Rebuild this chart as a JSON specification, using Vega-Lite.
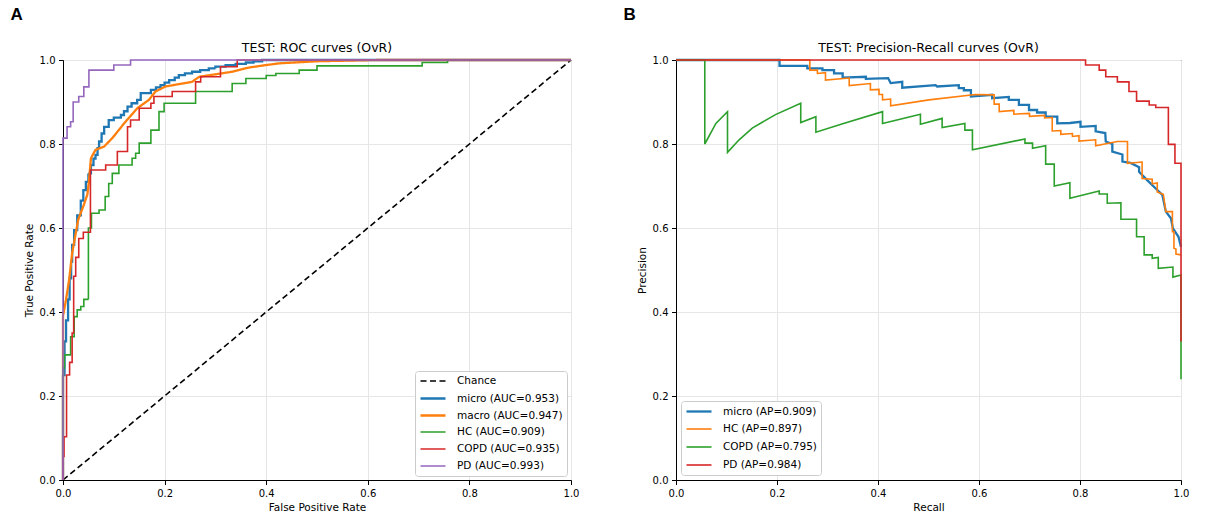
{
  "$schema": "https://vega.github.io/schema/vega-lite/v6.json",
  "background": "#ffffff",
  "padding": {"left": 10, "top": 6, "right": 10, "bottom": 5},
  "config": {
    "font": "DejaVu Sans",
    "view": {"stroke": "#000000", "strokeWidth": 1},
    "axis": {"grid": true, "gridColor": "#e6e6e6", "gridWidth": 1, "domainColor": "#000000", "tickColor": "#000000", "tickSize": 4.5, "labelPadding": 3.5, "labelFontSize": 10, "labelColor": "#000000", "titleFontSize": 10.5, "titleFontWeight": "normal", "titleColor": "#000000", "labelFlush": false, "labelOverlap": false},
    "title": {"fontSize": 12.5, "fontWeight": "normal", "color": "#000000", "offset": 1}
  },
  "datasets": {
    "roc": [
      {"curve": "Chance", "fpr": 0, "tpr": 0, "k": 0},
      {"curve": "Chance", "fpr": 1, "tpr": 1, "k": 1},
      {"curve": "micro (AUC=0.953)", "fpr": 0, "tpr": 0, "k": 0},
      {"curve": "micro (AUC=0.953)", "fpr": 0, "tpr": 0.25, "k": 1},
      {"curve": "micro (AUC=0.953)", "fpr": 0.003, "tpr": 0.33, "k": 2},
      {"curve": "micro (AUC=0.953)", "fpr": 0.006, "tpr": 0.38, "k": 3},
      {"curve": "micro (AUC=0.953)", "fpr": 0.01, "tpr": 0.43, "k": 4},
      {"curve": "micro (AUC=0.953)", "fpr": 0.013, "tpr": 0.48, "k": 5},
      {"curve": "micro (AUC=0.953)", "fpr": 0.016, "tpr": 0.52, "k": 6},
      {"curve": "micro (AUC=0.953)", "fpr": 0.018, "tpr": 0.56, "k": 7},
      {"curve": "micro (AUC=0.953)", "fpr": 0.022, "tpr": 0.595, "k": 8},
      {"curve": "micro (AUC=0.953)", "fpr": 0.028, "tpr": 0.63, "k": 9},
      {"curve": "micro (AUC=0.953)", "fpr": 0.035, "tpr": 0.665, "k": 10},
      {"curve": "micro (AUC=0.953)", "fpr": 0.04, "tpr": 0.69, "k": 11},
      {"curve": "micro (AUC=0.953)", "fpr": 0.045, "tpr": 0.71, "k": 12},
      {"curve": "micro (AUC=0.953)", "fpr": 0.05, "tpr": 0.73, "k": 13},
      {"curve": "micro (AUC=0.953)", "fpr": 0.055, "tpr": 0.75, "k": 14},
      {"curve": "micro (AUC=0.953)", "fpr": 0.06, "tpr": 0.765, "k": 15},
      {"curve": "micro (AUC=0.953)", "fpr": 0.064, "tpr": 0.774, "k": 16},
      {"curve": "micro (AUC=0.953)", "fpr": 0.068, "tpr": 0.79, "k": 17},
      {"curve": "micro (AUC=0.953)", "fpr": 0.071, "tpr": 0.806, "k": 18},
      {"curve": "micro (AUC=0.953)", "fpr": 0.076, "tpr": 0.825, "k": 19},
      {"curve": "micro (AUC=0.953)", "fpr": 0.081, "tpr": 0.841, "k": 20},
      {"curve": "micro (AUC=0.953)", "fpr": 0.09, "tpr": 0.857, "k": 21},
      {"curve": "micro (AUC=0.953)", "fpr": 0.1, "tpr": 0.863, "k": 22},
      {"curve": "micro (AUC=0.953)", "fpr": 0.114, "tpr": 0.869, "k": 23},
      {"curve": "micro (AUC=0.953)", "fpr": 0.12, "tpr": 0.878, "k": 24},
      {"curve": "micro (AUC=0.953)", "fpr": 0.127, "tpr": 0.889, "k": 25},
      {"curve": "micro (AUC=0.953)", "fpr": 0.135, "tpr": 0.897, "k": 26},
      {"curve": "micro (AUC=0.953)", "fpr": 0.146, "tpr": 0.905, "k": 27},
      {"curve": "micro (AUC=0.953)", "fpr": 0.153, "tpr": 0.921, "k": 28},
      {"curve": "micro (AUC=0.953)", "fpr": 0.173, "tpr": 0.929, "k": 29},
      {"curve": "micro (AUC=0.953)", "fpr": 0.183, "tpr": 0.935, "k": 30},
      {"curve": "micro (AUC=0.953)", "fpr": 0.192, "tpr": 0.94, "k": 31},
      {"curve": "micro (AUC=0.953)", "fpr": 0.2, "tpr": 0.946, "k": 32},
      {"curve": "micro (AUC=0.953)", "fpr": 0.209, "tpr": 0.952, "k": 33},
      {"curve": "micro (AUC=0.953)", "fpr": 0.22, "tpr": 0.958, "k": 34},
      {"curve": "micro (AUC=0.953)", "fpr": 0.228, "tpr": 0.964, "k": 35},
      {"curve": "micro (AUC=0.953)", "fpr": 0.24, "tpr": 0.968, "k": 36},
      {"curve": "micro (AUC=0.953)", "fpr": 0.254, "tpr": 0.972, "k": 37},
      {"curve": "micro (AUC=0.953)", "fpr": 0.27, "tpr": 0.976, "k": 38},
      {"curve": "micro (AUC=0.953)", "fpr": 0.287, "tpr": 0.98, "k": 39},
      {"curve": "micro (AUC=0.953)", "fpr": 0.3, "tpr": 0.984, "k": 40},
      {"curve": "micro (AUC=0.953)", "fpr": 0.32, "tpr": 0.988, "k": 41},
      {"curve": "micro (AUC=0.953)", "fpr": 0.34, "tpr": 0.991, "k": 42},
      {"curve": "micro (AUC=0.953)", "fpr": 0.36, "tpr": 0.994, "k": 43},
      {"curve": "micro (AUC=0.953)", "fpr": 0.375, "tpr": 0.997, "k": 44},
      {"curve": "micro (AUC=0.953)", "fpr": 0.392, "tpr": 1.0, "k": 45},
      {"curve": "micro (AUC=0.953)", "fpr": 1, "tpr": 1.0, "k": 46},
      {"curve": "macro (AUC=0.947)", "fpr": 0, "tpr": 0, "k": 0},
      {"curve": "macro (AUC=0.947)", "fpr": 0, "tpr": 0.39, "k": 1},
      {"curve": "macro (AUC=0.947)", "fpr": 0.006, "tpr": 0.43, "k": 2},
      {"curve": "macro (AUC=0.947)", "fpr": 0.012, "tpr": 0.476, "k": 3},
      {"curve": "macro (AUC=0.947)", "fpr": 0.018, "tpr": 0.54, "k": 4},
      {"curve": "macro (AUC=0.947)", "fpr": 0.022, "tpr": 0.567, "k": 5},
      {"curve": "macro (AUC=0.947)", "fpr": 0.03, "tpr": 0.62, "k": 6},
      {"curve": "macro (AUC=0.947)", "fpr": 0.041, "tpr": 0.655, "k": 7},
      {"curve": "macro (AUC=0.947)", "fpr": 0.048, "tpr": 0.68, "k": 8},
      {"curve": "macro (AUC=0.947)", "fpr": 0.051, "tpr": 0.71, "k": 9},
      {"curve": "macro (AUC=0.947)", "fpr": 0.055, "tpr": 0.766, "k": 10},
      {"curve": "macro (AUC=0.947)", "fpr": 0.064, "tpr": 0.786, "k": 11},
      {"curve": "macro (AUC=0.947)", "fpr": 0.081, "tpr": 0.794, "k": 12},
      {"curve": "macro (AUC=0.947)", "fpr": 0.097, "tpr": 0.814, "k": 13},
      {"curve": "macro (AUC=0.947)", "fpr": 0.123, "tpr": 0.853, "k": 14},
      {"curve": "macro (AUC=0.947)", "fpr": 0.146, "tpr": 0.885, "k": 15},
      {"curve": "macro (AUC=0.947)", "fpr": 0.169, "tpr": 0.905, "k": 16},
      {"curve": "macro (AUC=0.947)", "fpr": 0.182, "tpr": 0.925, "k": 17},
      {"curve": "macro (AUC=0.947)", "fpr": 0.202, "tpr": 0.937, "k": 18},
      {"curve": "macro (AUC=0.947)", "fpr": 0.254, "tpr": 0.948, "k": 19},
      {"curve": "macro (AUC=0.947)", "fpr": 0.268, "tpr": 0.96, "k": 20},
      {"curve": "macro (AUC=0.947)", "fpr": 0.333, "tpr": 0.972, "k": 21},
      {"curve": "macro (AUC=0.947)", "fpr": 0.366, "tpr": 0.982, "k": 22},
      {"curve": "macro (AUC=0.947)", "fpr": 0.4, "tpr": 0.988, "k": 23},
      {"curve": "macro (AUC=0.947)", "fpr": 0.425, "tpr": 0.992, "k": 24},
      {"curve": "macro (AUC=0.947)", "fpr": 0.5, "tpr": 0.997, "k": 25},
      {"curve": "macro (AUC=0.947)", "fpr": 0.62, "tpr": 1.0, "k": 26},
      {"curve": "macro (AUC=0.947)", "fpr": 1, "tpr": 1.0, "k": 27},
      {"curve": "HC (AUC=0.909)", "fpr": 0, "tpr": 0, "k": 0},
      {"curve": "HC (AUC=0.909)", "fpr": 0, "tpr": 0.267, "k": 1},
      {"curve": "HC (AUC=0.909)", "fpr": 0.003, "tpr": 0.298, "k": 2},
      {"curve": "HC (AUC=0.909)", "fpr": 0.015, "tpr": 0.341, "k": 3},
      {"curve": "HC (AUC=0.909)", "fpr": 0.022, "tpr": 0.389, "k": 4},
      {"curve": "HC (AUC=0.909)", "fpr": 0.028, "tpr": 0.405, "k": 5},
      {"curve": "HC (AUC=0.909)", "fpr": 0.035, "tpr": 0.413, "k": 6},
      {"curve": "HC (AUC=0.909)", "fpr": 0.041, "tpr": 0.43, "k": 7},
      {"curve": "HC (AUC=0.909)", "fpr": 0.05, "tpr": 0.6, "k": 8},
      {"curve": "HC (AUC=0.909)", "fpr": 0.056, "tpr": 0.635, "k": 9},
      {"curve": "HC (AUC=0.909)", "fpr": 0.071, "tpr": 0.643, "k": 10},
      {"curve": "HC (AUC=0.909)", "fpr": 0.083, "tpr": 0.675, "k": 11},
      {"curve": "HC (AUC=0.909)", "fpr": 0.09, "tpr": 0.706, "k": 12},
      {"curve": "HC (AUC=0.909)", "fpr": 0.097, "tpr": 0.73, "k": 13},
      {"curve": "HC (AUC=0.909)", "fpr": 0.11, "tpr": 0.75, "k": 14},
      {"curve": "HC (AUC=0.909)", "fpr": 0.136, "tpr": 0.766, "k": 15},
      {"curve": "HC (AUC=0.909)", "fpr": 0.143, "tpr": 0.778, "k": 16},
      {"curve": "HC (AUC=0.909)", "fpr": 0.15, "tpr": 0.802, "k": 17},
      {"curve": "HC (AUC=0.909)", "fpr": 0.173, "tpr": 0.833, "k": 18},
      {"curve": "HC (AUC=0.909)", "fpr": 0.189, "tpr": 0.877, "k": 19},
      {"curve": "HC (AUC=0.909)", "fpr": 0.199, "tpr": 0.897, "k": 20},
      {"curve": "HC (AUC=0.909)", "fpr": 0.261, "tpr": 0.925, "k": 21},
      {"curve": "HC (AUC=0.909)", "fpr": 0.333, "tpr": 0.944, "k": 22},
      {"curve": "HC (AUC=0.909)", "fpr": 0.36, "tpr": 0.956, "k": 23},
      {"curve": "HC (AUC=0.909)", "fpr": 0.4, "tpr": 0.963, "k": 24},
      {"curve": "HC (AUC=0.909)", "fpr": 0.419, "tpr": 0.968, "k": 25},
      {"curve": "HC (AUC=0.909)", "fpr": 0.465, "tpr": 0.976, "k": 26},
      {"curve": "HC (AUC=0.909)", "fpr": 0.5, "tpr": 0.986, "k": 27},
      {"curve": "HC (AUC=0.909)", "fpr": 0.707, "tpr": 0.994, "k": 28},
      {"curve": "HC (AUC=0.909)", "fpr": 0.757, "tpr": 1.0, "k": 29},
      {"curve": "HC (AUC=0.909)", "fpr": 1, "tpr": 1.0, "k": 30},
      {"curve": "COPD (AUC=0.935)", "fpr": 0, "tpr": 0, "k": 0},
      {"curve": "COPD (AUC=0.935)", "fpr": 0, "tpr": 0.056, "k": 1},
      {"curve": "COPD (AUC=0.935)", "fpr": 0.002, "tpr": 0.103, "k": 2},
      {"curve": "COPD (AUC=0.935)", "fpr": 0.007, "tpr": 0.25, "k": 3},
      {"curve": "COPD (AUC=0.935)", "fpr": 0.013, "tpr": 0.28, "k": 4},
      {"curve": "COPD (AUC=0.935)", "fpr": 0.018, "tpr": 0.35, "k": 5},
      {"curve": "COPD (AUC=0.935)", "fpr": 0.021, "tpr": 0.485, "k": 6},
      {"curve": "COPD (AUC=0.935)", "fpr": 0.025, "tpr": 0.53, "k": 7},
      {"curve": "COPD (AUC=0.935)", "fpr": 0.031, "tpr": 0.575, "k": 8},
      {"curve": "COPD (AUC=0.935)", "fpr": 0.04, "tpr": 0.59, "k": 9},
      {"curve": "COPD (AUC=0.935)", "fpr": 0.054, "tpr": 0.738, "k": 10},
      {"curve": "COPD (AUC=0.935)", "fpr": 0.084, "tpr": 0.75, "k": 11},
      {"curve": "COPD (AUC=0.935)", "fpr": 0.107, "tpr": 0.782, "k": 12},
      {"curve": "COPD (AUC=0.935)", "fpr": 0.127, "tpr": 0.841, "k": 13},
      {"curve": "COPD (AUC=0.935)", "fpr": 0.133, "tpr": 0.857, "k": 14},
      {"curve": "COPD (AUC=0.935)", "fpr": 0.15, "tpr": 0.885, "k": 15},
      {"curve": "COPD (AUC=0.935)", "fpr": 0.173, "tpr": 0.897, "k": 16},
      {"curve": "COPD (AUC=0.935)", "fpr": 0.179, "tpr": 0.913, "k": 17},
      {"curve": "COPD (AUC=0.935)", "fpr": 0.215, "tpr": 0.925, "k": 18},
      {"curve": "COPD (AUC=0.935)", "fpr": 0.261, "tpr": 0.948, "k": 19},
      {"curve": "COPD (AUC=0.935)", "fpr": 0.271, "tpr": 0.96, "k": 20},
      {"curve": "COPD (AUC=0.935)", "fpr": 0.31, "tpr": 0.984, "k": 21},
      {"curve": "COPD (AUC=0.935)", "fpr": 0.343, "tpr": 1.0, "k": 22},
      {"curve": "COPD (AUC=0.935)", "fpr": 1, "tpr": 1.0, "k": 23},
      {"curve": "PD (AUC=0.993)", "fpr": 0, "tpr": 0, "k": 0},
      {"curve": "PD (AUC=0.993)", "fpr": 0, "tpr": 0.814, "k": 1},
      {"curve": "PD (AUC=0.993)", "fpr": 0.008, "tpr": 0.841, "k": 2},
      {"curve": "PD (AUC=0.993)", "fpr": 0.015, "tpr": 0.853, "k": 3},
      {"curve": "PD (AUC=0.993)", "fpr": 0.02, "tpr": 0.9, "k": 4},
      {"curve": "PD (AUC=0.993)", "fpr": 0.031, "tpr": 0.913, "k": 5},
      {"curve": "PD (AUC=0.993)", "fpr": 0.041, "tpr": 0.936, "k": 6},
      {"curve": "PD (AUC=0.993)", "fpr": 0.051, "tpr": 0.976, "k": 7},
      {"curve": "PD (AUC=0.993)", "fpr": 0.1, "tpr": 0.988, "k": 8},
      {"curve": "PD (AUC=0.993)", "fpr": 0.133, "tpr": 1.0, "k": 9},
      {"curve": "PD (AUC=0.993)", "fpr": 1, "tpr": 1.0, "k": 10}
    ],
    "pr": [
      {"curve": "micro (AP=0.909)", "recall": 0, "precision": 1, "k": 0},
      {"curve": "micro (AP=0.909)", "recall": 0.205, "precision": 1, "k": 1},
      {"curve": "micro (AP=0.909)", "recall": 0.205, "precision": 0.986, "k": 2},
      {"curve": "micro (AP=0.909)", "recall": 0.26, "precision": 0.986, "k": 3},
      {"curve": "micro (AP=0.909)", "recall": 0.26, "precision": 0.98, "k": 4},
      {"curve": "micro (AP=0.909)", "recall": 0.29, "precision": 0.98, "k": 5},
      {"curve": "micro (AP=0.909)", "recall": 0.29, "precision": 0.976, "k": 6},
      {"curve": "micro (AP=0.909)", "recall": 0.313, "precision": 0.976, "k": 7},
      {"curve": "micro (AP=0.909)", "recall": 0.313, "precision": 0.968, "k": 8},
      {"curve": "micro (AP=0.909)", "recall": 0.33, "precision": 0.968, "k": 9},
      {"curve": "micro (AP=0.909)", "recall": 0.33, "precision": 0.958, "k": 10},
      {"curve": "micro (AP=0.909)", "recall": 0.376, "precision": 0.96, "k": 11},
      {"curve": "micro (AP=0.909)", "recall": 0.376, "precision": 0.955, "k": 12},
      {"curve": "micro (AP=0.909)", "recall": 0.42, "precision": 0.957, "k": 13},
      {"curve": "micro (AP=0.909)", "recall": 0.425, "precision": 0.945, "k": 14},
      {"curve": "micro (AP=0.909)", "recall": 0.448, "precision": 0.948, "k": 15},
      {"curve": "micro (AP=0.909)", "recall": 0.448, "precision": 0.934, "k": 16},
      {"curve": "micro (AP=0.909)", "recall": 0.514, "precision": 0.94, "k": 17},
      {"curve": "micro (AP=0.909)", "recall": 0.517, "precision": 0.937, "k": 18},
      {"curve": "micro (AP=0.909)", "recall": 0.56, "precision": 0.94, "k": 19},
      {"curve": "micro (AP=0.909)", "recall": 0.56, "precision": 0.933, "k": 20},
      {"curve": "micro (AP=0.909)", "recall": 0.57, "precision": 0.933, "k": 21},
      {"curve": "micro (AP=0.909)", "recall": 0.57, "precision": 0.928, "k": 22},
      {"curve": "micro (AP=0.909)", "recall": 0.584, "precision": 0.928, "k": 23},
      {"curve": "micro (AP=0.909)", "recall": 0.584, "precision": 0.913, "k": 24},
      {"curve": "micro (AP=0.909)", "recall": 0.626, "precision": 0.917, "k": 25},
      {"curve": "micro (AP=0.909)", "recall": 0.626, "precision": 0.909, "k": 26},
      {"curve": "micro (AP=0.909)", "recall": 0.659, "precision": 0.912, "k": 27},
      {"curve": "micro (AP=0.909)", "recall": 0.659, "precision": 0.905, "k": 28},
      {"curve": "micro (AP=0.909)", "recall": 0.679, "precision": 0.905, "k": 29},
      {"curve": "micro (AP=0.909)", "recall": 0.679, "precision": 0.893, "k": 30},
      {"curve": "micro (AP=0.909)", "recall": 0.699, "precision": 0.893, "k": 31},
      {"curve": "micro (AP=0.909)", "recall": 0.699, "precision": 0.881, "k": 32},
      {"curve": "micro (AP=0.909)", "recall": 0.715, "precision": 0.881, "k": 33},
      {"curve": "micro (AP=0.909)", "recall": 0.715, "precision": 0.875, "k": 34},
      {"curve": "micro (AP=0.909)", "recall": 0.732, "precision": 0.875, "k": 35},
      {"curve": "micro (AP=0.909)", "recall": 0.732, "precision": 0.865, "k": 36},
      {"curve": "micro (AP=0.909)", "recall": 0.755, "precision": 0.865, "k": 37},
      {"curve": "micro (AP=0.909)", "recall": 0.755, "precision": 0.849, "k": 38},
      {"curve": "micro (AP=0.909)", "recall": 0.78, "precision": 0.85, "k": 39},
      {"curve": "micro (AP=0.909)", "recall": 0.801, "precision": 0.853, "k": 40},
      {"curve": "micro (AP=0.909)", "recall": 0.801, "precision": 0.841, "k": 41},
      {"curve": "micro (AP=0.909)", "recall": 0.831, "precision": 0.843, "k": 42},
      {"curve": "micro (AP=0.909)", "recall": 0.831, "precision": 0.83, "k": 43},
      {"curve": "micro (AP=0.909)", "recall": 0.85, "precision": 0.826, "k": 44},
      {"curve": "micro (AP=0.909)", "recall": 0.851, "precision": 0.806, "k": 45},
      {"curve": "micro (AP=0.909)", "recall": 0.864, "precision": 0.8, "k": 46},
      {"curve": "micro (AP=0.909)", "recall": 0.864, "precision": 0.782, "k": 47},
      {"curve": "micro (AP=0.909)", "recall": 0.884, "precision": 0.775, "k": 48},
      {"curve": "micro (AP=0.909)", "recall": 0.884, "precision": 0.758, "k": 49},
      {"curve": "micro (AP=0.909)", "recall": 0.9, "precision": 0.755, "k": 50},
      {"curve": "micro (AP=0.909)", "recall": 0.917, "precision": 0.745, "k": 51},
      {"curve": "micro (AP=0.909)", "recall": 0.917, "precision": 0.734, "k": 52},
      {"curve": "micro (AP=0.909)", "recall": 0.933, "precision": 0.714, "k": 53},
      {"curve": "micro (AP=0.909)", "recall": 0.95, "precision": 0.694, "k": 54},
      {"curve": "micro (AP=0.909)", "recall": 0.963, "precision": 0.679, "k": 55},
      {"curve": "micro (AP=0.909)", "recall": 0.97, "precision": 0.639, "k": 56},
      {"curve": "micro (AP=0.909)", "recall": 0.98, "precision": 0.623, "k": 57},
      {"curve": "micro (AP=0.909)", "recall": 0.984, "precision": 0.599, "k": 58},
      {"curve": "micro (AP=0.909)", "recall": 0.995, "precision": 0.579, "k": 59},
      {"curve": "micro (AP=0.909)", "recall": 1.0, "precision": 0.555, "k": 60},
      {"curve": "HC (AP=0.897)", "recall": 0, "precision": 1, "k": 0},
      {"curve": "HC (AP=0.897)", "recall": 0.265, "precision": 1, "k": 1},
      {"curve": "HC (AP=0.897)", "recall": 0.265, "precision": 0.976, "k": 2},
      {"curve": "HC (AP=0.897)", "recall": 0.28, "precision": 0.976, "k": 3},
      {"curve": "HC (AP=0.897)", "recall": 0.28, "precision": 0.968, "k": 4},
      {"curve": "HC (AP=0.897)", "recall": 0.296, "precision": 0.97, "k": 5},
      {"curve": "HC (AP=0.897)", "recall": 0.296, "precision": 0.952, "k": 6},
      {"curve": "HC (AP=0.897)", "recall": 0.343, "precision": 0.957, "k": 7},
      {"curve": "HC (AP=0.897)", "recall": 0.343, "precision": 0.939, "k": 8},
      {"curve": "HC (AP=0.897)", "recall": 0.385, "precision": 0.944, "k": 9},
      {"curve": "HC (AP=0.897)", "recall": 0.385, "precision": 0.929, "k": 10},
      {"curve": "HC (AP=0.897)", "recall": 0.402, "precision": 0.93, "k": 11},
      {"curve": "HC (AP=0.897)", "recall": 0.402, "precision": 0.918, "k": 12},
      {"curve": "HC (AP=0.897)", "recall": 0.409, "precision": 0.918, "k": 13},
      {"curve": "HC (AP=0.897)", "recall": 0.409, "precision": 0.905, "k": 14},
      {"curve": "HC (AP=0.897)", "recall": 0.425, "precision": 0.907, "k": 15},
      {"curve": "HC (AP=0.897)", "recall": 0.425, "precision": 0.891, "k": 16},
      {"curve": "HC (AP=0.897)", "recall": 0.501, "precision": 0.905, "k": 17},
      {"curve": "HC (AP=0.897)", "recall": 0.593, "precision": 0.918, "k": 18},
      {"curve": "HC (AP=0.897)", "recall": 0.63, "precision": 0.917, "k": 19},
      {"curve": "HC (AP=0.897)", "recall": 0.63, "precision": 0.895, "k": 20},
      {"curve": "HC (AP=0.897)", "recall": 0.64, "precision": 0.895, "k": 21},
      {"curve": "HC (AP=0.897)", "recall": 0.64, "precision": 0.877, "k": 22},
      {"curve": "HC (AP=0.897)", "recall": 0.669, "precision": 0.88, "k": 23},
      {"curve": "HC (AP=0.897)", "recall": 0.669, "precision": 0.871, "k": 24},
      {"curve": "HC (AP=0.897)", "recall": 0.7, "precision": 0.873, "k": 25},
      {"curve": "HC (AP=0.897)", "recall": 0.7, "precision": 0.866, "k": 26},
      {"curve": "HC (AP=0.897)", "recall": 0.73, "precision": 0.868, "k": 27},
      {"curve": "HC (AP=0.897)", "recall": 0.73, "precision": 0.862, "k": 28},
      {"curve": "HC (AP=0.897)", "recall": 0.745, "precision": 0.863, "k": 29},
      {"curve": "HC (AP=0.897)", "recall": 0.745, "precision": 0.831, "k": 30},
      {"curve": "HC (AP=0.897)", "recall": 0.762, "precision": 0.832, "k": 31},
      {"curve": "HC (AP=0.897)", "recall": 0.762, "precision": 0.823, "k": 32},
      {"curve": "HC (AP=0.897)", "recall": 0.785, "precision": 0.825, "k": 33},
      {"curve": "HC (AP=0.897)", "recall": 0.785, "precision": 0.818, "k": 34},
      {"curve": "HC (AP=0.897)", "recall": 0.798, "precision": 0.82, "k": 35},
      {"curve": "HC (AP=0.897)", "recall": 0.798, "precision": 0.807, "k": 36},
      {"curve": "HC (AP=0.897)", "recall": 0.831, "precision": 0.81, "k": 37},
      {"curve": "HC (AP=0.897)", "recall": 0.831, "precision": 0.796, "k": 38},
      {"curve": "HC (AP=0.897)", "recall": 0.874, "precision": 0.806, "k": 39},
      {"curve": "HC (AP=0.897)", "recall": 0.894, "precision": 0.806, "k": 40},
      {"curve": "HC (AP=0.897)", "recall": 0.894, "precision": 0.754, "k": 41},
      {"curve": "HC (AP=0.897)", "recall": 0.923, "precision": 0.757, "k": 42},
      {"curve": "HC (AP=0.897)", "recall": 0.923, "precision": 0.718, "k": 43},
      {"curve": "HC (AP=0.897)", "recall": 0.943, "precision": 0.716, "k": 44},
      {"curve": "HC (AP=0.897)", "recall": 0.943, "precision": 0.705, "k": 45},
      {"curve": "HC (AP=0.897)", "recall": 0.953, "precision": 0.707, "k": 46},
      {"curve": "HC (AP=0.897)", "recall": 0.953, "precision": 0.686, "k": 47},
      {"curve": "HC (AP=0.897)", "recall": 0.965, "precision": 0.68, "k": 48},
      {"curve": "HC (AP=0.897)", "recall": 0.97, "precision": 0.639, "k": 49},
      {"curve": "HC (AP=0.897)", "recall": 0.983, "precision": 0.639, "k": 50},
      {"curve": "HC (AP=0.897)", "recall": 0.983, "precision": 0.591, "k": 51},
      {"curve": "HC (AP=0.897)", "recall": 0.986, "precision": 0.591, "k": 52},
      {"curve": "HC (AP=0.897)", "recall": 0.986, "precision": 0.552, "k": 53},
      {"curve": "HC (AP=0.897)", "recall": 0.99, "precision": 0.55, "k": 54},
      {"curve": "HC (AP=0.897)", "recall": 0.99, "precision": 0.538, "k": 55},
      {"curve": "HC (AP=0.897)", "recall": 1.0, "precision": 0.536, "k": 56},
      {"curve": "COPD (AP=0.795)", "recall": 0, "precision": 1, "k": 0},
      {"curve": "COPD (AP=0.795)", "recall": 0.057, "precision": 1, "k": 1},
      {"curve": "COPD (AP=0.795)", "recall": 0.057, "precision": 0.8, "k": 2},
      {"curve": "COPD (AP=0.795)", "recall": 0.079, "precision": 0.849, "k": 3},
      {"curve": "COPD (AP=0.795)", "recall": 0.102, "precision": 0.877, "k": 4},
      {"curve": "COPD (AP=0.795)", "recall": 0.102, "precision": 0.78, "k": 5},
      {"curve": "COPD (AP=0.795)", "recall": 0.125, "precision": 0.81, "k": 6},
      {"curve": "COPD (AP=0.795)", "recall": 0.151, "precision": 0.838, "k": 7},
      {"curve": "COPD (AP=0.795)", "recall": 0.197, "precision": 0.87, "k": 8},
      {"curve": "COPD (AP=0.795)", "recall": 0.247, "precision": 0.897, "k": 9},
      {"curve": "COPD (AP=0.795)", "recall": 0.247, "precision": 0.851, "k": 10},
      {"curve": "COPD (AP=0.795)", "recall": 0.277, "precision": 0.865, "k": 11},
      {"curve": "COPD (AP=0.795)", "recall": 0.277, "precision": 0.828, "k": 12},
      {"curve": "COPD (AP=0.795)", "recall": 0.33, "precision": 0.848, "k": 13},
      {"curve": "COPD (AP=0.795)", "recall": 0.409, "precision": 0.877, "k": 14},
      {"curve": "COPD (AP=0.795)", "recall": 0.409, "precision": 0.849, "k": 15},
      {"curve": "COPD (AP=0.795)", "recall": 0.484, "precision": 0.871, "k": 16},
      {"curve": "COPD (AP=0.795)", "recall": 0.484, "precision": 0.847, "k": 17},
      {"curve": "COPD (AP=0.795)", "recall": 0.527, "precision": 0.861, "k": 18},
      {"curve": "COPD (AP=0.795)", "recall": 0.527, "precision": 0.839, "k": 19},
      {"curve": "COPD (AP=0.795)", "recall": 0.572, "precision": 0.849, "k": 20},
      {"curve": "COPD (AP=0.795)", "recall": 0.572, "precision": 0.833, "k": 21},
      {"curve": "COPD (AP=0.795)", "recall": 0.587, "precision": 0.833, "k": 22},
      {"curve": "COPD (AP=0.795)", "recall": 0.587, "precision": 0.786, "k": 23},
      {"curve": "COPD (AP=0.795)", "recall": 0.691, "precision": 0.812, "k": 24},
      {"curve": "COPD (AP=0.795)", "recall": 0.691, "precision": 0.802, "k": 25},
      {"curve": "COPD (AP=0.795)", "recall": 0.706, "precision": 0.802, "k": 26},
      {"curve": "COPD (AP=0.795)", "recall": 0.706, "precision": 0.79, "k": 27},
      {"curve": "COPD (AP=0.795)", "recall": 0.732, "precision": 0.796, "k": 28},
      {"curve": "COPD (AP=0.795)", "recall": 0.732, "precision": 0.752, "k": 29},
      {"curve": "COPD (AP=0.795)", "recall": 0.749, "precision": 0.752, "k": 30},
      {"curve": "COPD (AP=0.795)", "recall": 0.749, "precision": 0.7, "k": 31},
      {"curve": "COPD (AP=0.795)", "recall": 0.78, "precision": 0.708, "k": 32},
      {"curve": "COPD (AP=0.795)", "recall": 0.78, "precision": 0.671, "k": 33},
      {"curve": "COPD (AP=0.795)", "recall": 0.838, "precision": 0.688, "k": 34},
      {"curve": "COPD (AP=0.795)", "recall": 0.838, "precision": 0.681, "k": 35},
      {"curve": "COPD (AP=0.795)", "recall": 0.854, "precision": 0.681, "k": 36},
      {"curve": "COPD (AP=0.795)", "recall": 0.854, "precision": 0.659, "k": 37},
      {"curve": "COPD (AP=0.795)", "recall": 0.881, "precision": 0.66, "k": 38},
      {"curve": "COPD (AP=0.795)", "recall": 0.881, "precision": 0.621, "k": 39},
      {"curve": "COPD (AP=0.795)", "recall": 0.912, "precision": 0.621, "k": 40},
      {"curve": "COPD (AP=0.795)", "recall": 0.912, "precision": 0.579, "k": 41},
      {"curve": "COPD (AP=0.795)", "recall": 0.927, "precision": 0.579, "k": 42},
      {"curve": "COPD (AP=0.795)", "recall": 0.927, "precision": 0.536, "k": 43},
      {"curve": "COPD (AP=0.795)", "recall": 0.943, "precision": 0.536, "k": 44},
      {"curve": "COPD (AP=0.795)", "recall": 0.943, "precision": 0.528, "k": 45},
      {"curve": "COPD (AP=0.795)", "recall": 0.955, "precision": 0.53, "k": 46},
      {"curve": "COPD (AP=0.795)", "recall": 0.955, "precision": 0.504, "k": 47},
      {"curve": "COPD (AP=0.795)", "recall": 0.984, "precision": 0.507, "k": 48},
      {"curve": "COPD (AP=0.795)", "recall": 0.984, "precision": 0.483, "k": 49},
      {"curve": "COPD (AP=0.795)", "recall": 1.0, "precision": 0.488, "k": 50},
      {"curve": "COPD (AP=0.795)", "recall": 1.0, "precision": 0.24, "k": 51},
      {"curve": "PD (AP=0.984)", "recall": 0, "precision": 1, "k": 0},
      {"curve": "PD (AP=0.984)", "recall": 0.811, "precision": 1, "k": 1},
      {"curve": "PD (AP=0.984)", "recall": 0.811, "precision": 0.988, "k": 2},
      {"curve": "PD (AP=0.984)", "recall": 0.838, "precision": 0.988, "k": 3},
      {"curve": "PD (AP=0.984)", "recall": 0.838, "precision": 0.976, "k": 4},
      {"curve": "PD (AP=0.984)", "recall": 0.851, "precision": 0.976, "k": 5},
      {"curve": "PD (AP=0.984)", "recall": 0.851, "precision": 0.96, "k": 6},
      {"curve": "PD (AP=0.984)", "recall": 0.874, "precision": 0.96, "k": 7},
      {"curve": "PD (AP=0.984)", "recall": 0.874, "precision": 0.948, "k": 8},
      {"curve": "PD (AP=0.984)", "recall": 0.897, "precision": 0.948, "k": 9},
      {"curve": "PD (AP=0.984)", "recall": 0.897, "precision": 0.925, "k": 10},
      {"curve": "PD (AP=0.984)", "recall": 0.912, "precision": 0.925, "k": 11},
      {"curve": "PD (AP=0.984)", "recall": 0.912, "precision": 0.902, "k": 12},
      {"curve": "PD (AP=0.984)", "recall": 0.937, "precision": 0.902, "k": 13},
      {"curve": "PD (AP=0.984)", "recall": 0.937, "precision": 0.893, "k": 14},
      {"curve": "PD (AP=0.984)", "recall": 0.95, "precision": 0.893, "k": 15},
      {"curve": "PD (AP=0.984)", "recall": 0.95, "precision": 0.887, "k": 16},
      {"curve": "PD (AP=0.984)", "recall": 0.975, "precision": 0.887, "k": 17},
      {"curve": "PD (AP=0.984)", "recall": 0.975, "precision": 0.799, "k": 18},
      {"curve": "PD (AP=0.984)", "recall": 0.988, "precision": 0.799, "k": 19},
      {"curve": "PD (AP=0.984)", "recall": 0.988, "precision": 0.754, "k": 20},
      {"curve": "PD (AP=0.984)", "recall": 1.0, "precision": 0.754, "k": 21},
      {"curve": "PD (AP=0.984)", "recall": 1.0, "precision": 0.33, "k": 22}
    ]
  },
  "resolve": {"scale": {"color": "independent", "strokeDash": "independent", "strokeWidth": "independent", "x": "independent", "y": "independent"}, "legend": {"color": "independent", "strokeDash": "independent", "strokeWidth": "independent"}},
  "spacing": 43,
  "hconcat": [
    {
      "title": {"text": "A", "anchor": "start", "font": "Liberation Sans", "fontSize": 17, "fontWeight": "bold", "dx": -13, "offset": 17},
      "resolve": {"scale": {"color": "independent", "strokeDash": "independent", "strokeWidth": "independent", "x": "independent", "y": "independent"}, "legend": {"color": "independent", "strokeDash": "independent", "strokeWidth": "independent"}},
      "hconcat": [
        {
          "title": {"text": "TEST: ROC curves (OvR)"},
          "width": 508,
          "height": 420,
          "data": {"name": "roc"},
          "encoding": {
            "x": {"field": "fpr", "type": "quantitative", "scale": {"domain": [0, 1], "nice": false, "zero": false}, "axis": {"title": "False Positive Rate", "values": [0, 0.2, 0.4, 0.6, 0.8, 1], "format": ".1f", "titlePadding": 4}},
            "y": {"field": "tpr", "type": "quantitative", "scale": {"domain": [0, 1], "nice": false, "zero": false}, "axis": {"title": "True Positive Rate", "values": [0, 0.2, 0.4, 0.6, 0.8, 1], "format": ".1f", "titlePadding": 5}},
            "order": {"field": "k", "type": "quantitative"},
            "color": {"field": "curve", "type": "nominal", "scale": {"domain": ["Chance", "micro (AUC=0.953)", "macro (AUC=0.947)", "HC (AUC=0.909)", "COPD (AUC=0.935)", "PD (AUC=0.993)"], "range": ["#000000", "#1f77b4", "#ff7f0e", "#2ca02c", "#d62728", "#9467bd"]}, "legend": {"title": null, "orient": "bottom-right", "offset": 4, "fillColor": "#ffffff", "strokeColor": "#cccccc", "cornerRadius": 3, "padding": 4, "rowPadding": 5, "labelFontSize": 10.5, "labelColor": "#000000", "symbolType": "M-1,0H4", "symbolSize": 100, "labelOffset": 25}},
            "strokeDash": {"field": "curve", "type": "nominal", "scale": {"domain": ["Chance", "micro (AUC=0.953)", "macro (AUC=0.947)", "HC (AUC=0.909)", "COPD (AUC=0.935)", "PD (AUC=0.993)"], "range": [[6, 3.5], [1, 0], [1, 0], [1, 0], [1, 0], [1, 0]]}, "legend": {"title": null, "orient": "bottom-right", "offset": 4, "fillColor": "#ffffff", "strokeColor": "#cccccc", "cornerRadius": 3, "padding": 4, "rowPadding": 5, "labelFontSize": 10.5, "labelColor": "#000000", "symbolType": "M-1,0H4", "symbolSize": 100, "labelOffset": 25}},
            "strokeWidth": {"field": "curve", "type": "nominal", "scale": {"type": "ordinal", "domain": ["Chance", "micro (AUC=0.953)", "macro (AUC=0.947)", "HC (AUC=0.909)", "COPD (AUC=0.935)", "PD (AUC=0.993)"], "range": [1.6, 2.3, 2.3, 1.6, 1.6, 1.6]}, "legend": {"title": null, "orient": "bottom-right", "offset": 4, "fillColor": "#ffffff", "strokeColor": "#cccccc", "cornerRadius": 3, "padding": 4, "rowPadding": 5, "labelFontSize": 10.5, "labelColor": "#000000", "symbolType": "M-1,0H4", "symbolSize": 100, "labelOffset": 25}}
          },
          "layer": [
            {"transform": [{"filter": {"field": "curve", "oneOf": ["Chance"]}}], "mark": {"type": "line", "interpolate": "linear"}},
            {"transform": [{"filter": {"field": "curve", "oneOf": ["micro (AUC=0.953)"]}}], "mark": {"type": "line", "interpolate": "step-after"}},
            {"transform": [{"filter": {"field": "curve", "oneOf": ["macro (AUC=0.947)"]}}], "mark": {"type": "line", "interpolate": "linear"}},
            {"transform": [{"filter": {"field": "curve", "oneOf": ["HC (AUC=0.909)", "COPD (AUC=0.935)", "PD (AUC=0.993)"]}}], "mark": {"type": "line", "interpolate": "step-after"}}
          ]
        }
      ]
    },
    {
      "title": {"text": "B", "anchor": "start", "font": "Liberation Sans", "fontSize": 17, "fontWeight": "bold", "dx": -13, "offset": 17},
      "resolve": {"scale": {"color": "independent", "strokeWidth": "independent", "x": "independent", "y": "independent"}, "legend": {"color": "independent", "strokeWidth": "independent"}},
      "hconcat": [
        {
          "title": {"text": "TEST: Precision-Recall curves (OvR)"},
          "width": 505,
          "height": 420,
          "data": {"name": "pr"},
          "mark": {"type": "line", "interpolate": "linear"},
          "encoding": {
            "x": {"field": "recall", "type": "quantitative", "scale": {"domain": [0, 1], "nice": false, "zero": false}, "axis": {"title": "Recall", "values": [0, 0.2, 0.4, 0.6, 0.8, 1], "format": ".1f", "titlePadding": 4}},
            "y": {"field": "precision", "type": "quantitative", "scale": {"domain": [0, 1], "nice": false, "zero": false}, "axis": {"title": "Precision", "values": [0, 0.2, 0.4, 0.6, 0.8, 1], "format": ".1f", "titlePadding": 5}},
            "order": {"field": "k", "type": "quantitative"},
            "color": {"field": "curve", "type": "nominal", "scale": {"domain": ["micro (AP=0.909)", "HC (AP=0.897)", "COPD (AP=0.795)", "PD (AP=0.984)"], "range": ["#1f77b4", "#ff7f0e", "#2ca02c", "#d62728"]}, "legend": {"title": null, "orient": "bottom-left", "offset": 5, "fillColor": "#ffffff", "strokeColor": "#cccccc", "cornerRadius": 3, "padding": 4, "rowPadding": 6, "labelFontSize": 10.5, "labelColor": "#000000", "symbolType": "M-1,0H4", "symbolSize": 100, "labelOffset": 25}},
            "strokeWidth": {"field": "curve", "type": "nominal", "scale": {"type": "ordinal", "domain": ["micro (AP=0.909)", "HC (AP=0.897)", "COPD (AP=0.795)", "PD (AP=0.984)"], "range": [2.3, 1.6, 1.6, 1.6]}, "legend": {"title": null, "orient": "bottom-left", "offset": 5, "fillColor": "#ffffff", "strokeColor": "#cccccc", "cornerRadius": 3, "padding": 4, "rowPadding": 6, "labelFontSize": 10.5, "labelColor": "#000000", "symbolType": "M-1,0H4", "symbolSize": 100, "labelOffset": 25}}
          }
        }
      ]
    }
  ]
}
